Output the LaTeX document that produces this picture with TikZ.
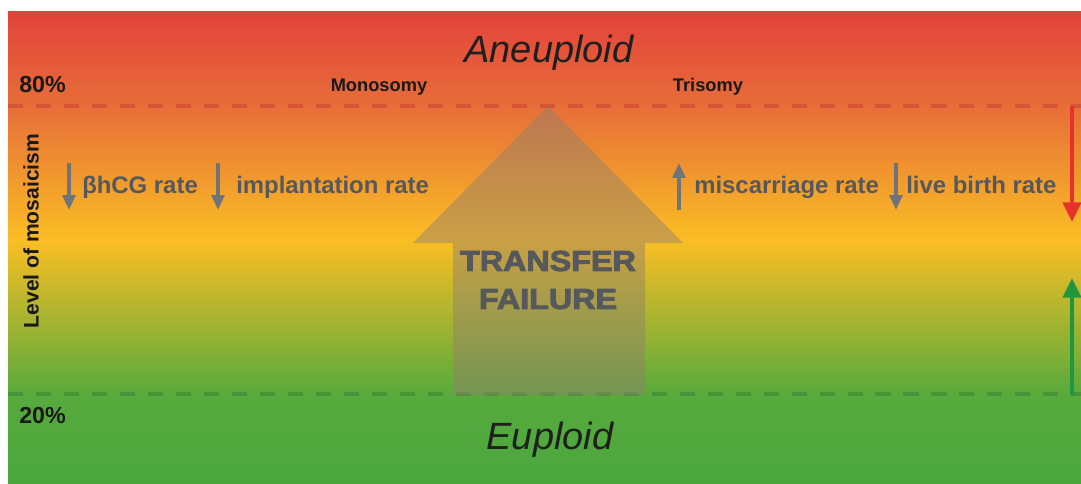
\documentclass[tikz,border=0pt]{standalone}
\usepackage{fontspec}
\setmainfont{Liberation Sans}
\usepackage{graphicx}
\usetikzlibrary{arrows.meta}

\definecolor{bgred}{RGB}{226,66,60}
\definecolor{bgorange}{RGB}{231,110,56}
\definecolor{bgyellow}{RGB}{250,190,36}
\definecolor{bglime}{RGB}{88,170,60}
\definecolor{bggreen}{RGB}{74,167,62}
\definecolor{textgray}{RGB}{85,88,92}
\definecolor{arrowgray}{RGB}{112,116,120}
\definecolor{downred}{RGB}{230,50,45}
\definecolor{upgreen}{RGB}{32,150,62}

% red at the top, yellow in the middle, green at the bottom
\pgfdeclareverticalshading{mosaicband}{100bp}{color(0bp)=(bggreen); color(25bp)=(bggreen);
  color(34.4bp)=(bglime); color(50.7bp)=(bgyellow); color(64.9bp)=(bgorange);
  color(75bp)=(bgred); color(100bp)=(bgred)}

\begin{document}
\begin{tikzpicture}[x=0.025cm, y=-0.025cm,
    big_label/.style={inner sep=0pt, text=black!88, font=\itshape\fontsize{27}{32}\selectfont},
    pct_style/.style={inner sep=0pt, anchor=west, text=black!90, font=\bfseries\fontsize{16.5}{20}\selectfont},
    type_style/.style={inner sep=0pt, text=black!90, font=\bfseries\fontsize{13}{16}\selectfont},
    rate_style/.style={inner sep=0pt, anchor=base west, text=textgray, font=\bfseries\fontsize{17}{20}\selectfont},
    rate_arrow/.style={draw=arrowgray, line width=2.4pt, -{Triangle[length=10.5pt,width=9pt]}},
    limit_line/.style={line width=2.2pt, dash pattern=on 10.7pt off 9.2pt},
    side_arrow/.style={line width=2.8pt, -{Triangle[length=14pt,width=12.8pt]}}]

    \useasboundingbox (0,0) rectangle (1081,483);
    \shade[shading=mosaicband] (8,11) rectangle (1081,483);

    % 80% and 20% limits
    \draw[limit_line, draw=bgred!85!black, draw opacity=0.45] (8,106) -- (1081,106);
    \draw[limit_line, draw=bggreen!80!black, draw opacity=0.6] (8,394) -- (1081,394);

    % transfer failure arrow
    \coordinate (tip) at (548,106);
    \fill[gray!70!brown, fill opacity=0.48] (tip) -- (683,243) -- (645,243) -- (645,395)
        -- (453,395) -- (453,243) -- (413,243) -- cycle;
    \node[inner sep=0pt, align=center, text=textgray,
        font=\bfseries\fontsize{20.5}{27}\selectfont\addfontfeature{FakeBold=3}]
        (fail) at (548,280) {\scalebox{1.12}[1]{TRANSFER}\\\scalebox{1.12}[1]{FAILURE}};

    \node[big_label] (aneu) at (549,53) {Aneuploid};
    \node[big_label] (eu) at (550,440) {Euploid};

    \node[pct_style] (p80) at (19,85) {80\%};
    \node[pct_style] (p20) at (19,416) {20\%};
    \node[inner sep=0pt, rotate=90, text=black!90, font=\bfseries\fontsize{15}{18}\selectfont]
        (level) at (31,231) {Level of mosaicism};

    \node[type_style] (mono) at (379,87) {Monosomy};
    \node[type_style] (tri) at (708,87) {Trisomy};

    % effects on the outcome
    \node[rate_style] (hcg) at (82,193) {βhCG rate};
    \node[rate_style] (impl) at (236,193) {implantation rate};
    \node[rate_style] (misc) at (694,193) {miscarriage rate};
    \node[rate_style] (live) at (906,193) {live birth rate};

    \draw[rate_arrow] (69,163) -- (69,210);
    \draw[rate_arrow] (218,163) -- (218,210);
    \draw[rate_arrow] (679,210) -- (679,163);
    \draw[rate_arrow] (896,163) -- (896,210);

    \draw[side_arrow, draw=downred] (1072,106) -- (1072,222);
    \draw[side_arrow, draw=upgreen] (1072,395) -- (1072,278);

\end{tikzpicture}
\end{document}
